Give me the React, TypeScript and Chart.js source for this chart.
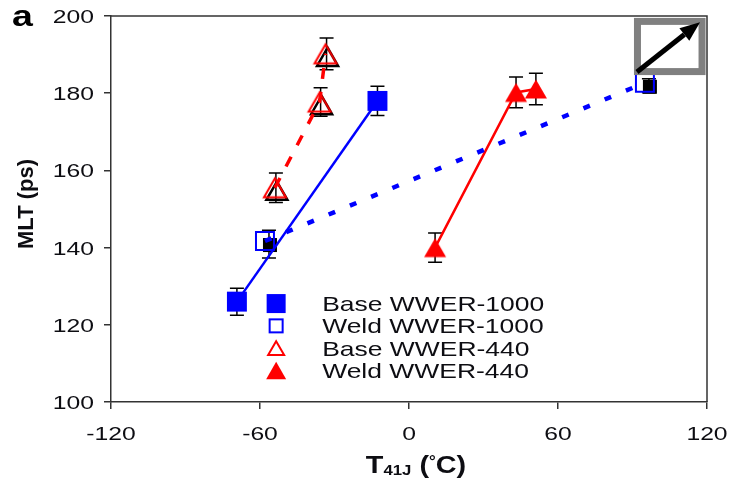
import React, { useEffect, useRef } from 'react';
import { Chart, registerables } from 'chart.js';

Chart.register(...registerables);

// ---------- data ----------
const xTicks = [-120, -60, 0, 60, 120];
const yTicks = [100, 120, 140, 160, 180, 200];
const seriesLabels = ['Base WWER-1000', 'Weld WWER-1000', 'Base WWER-440', 'Weld WWER-440'];

const baseW1000X = [-69.3, -12.7];
const baseW1000Y = [126.0, 178.0];
const baseW1000Err = [3.5, 3.8];

const weldW1000X = [-58.0, 95.0];
const weldW1000Y = [141.7, 182.7];
const weldW1000Err = [3.6, 1.8];

const baseW440X = [-54.0, -36.0, -33.6];
const baseW440Y = [155.5, 177.7, 190.2];
const baseW440Err = [3.8, 3.7, 4.1];

const weldW440X = [10.5, 43.1, 51.1];
const weldW440Y = [140.0, 180.2, 181.1];
const weldW440Err = [3.8, 4.0, 4.1];

const BLUE = '#0000ff';
const RED = '#ff0000';
const INK = '#0d0d12';
const FONT = '"Liberation Sans", Arial, Helvetica, sans-serif';

function toPts(xs: number[], ys: number[]) {
  return xs.map((x, i) => ({ x, y: ys[i] }));
}

function triPath(ctx: CanvasRenderingContext2D, cx: number, cy: number, side: number) {
  const h = (side * Math.sqrt(3)) / 2;
  const top = cy - h / 2;
  ctx.beginPath();
  ctx.moveTo(cx, top);
  ctx.lineTo(cx + side / 2, top + h);
  ctx.lineTo(cx - side / 2, top + h);
  ctx.closePath();
}

function makeTriangle(side: number, fill: string | null, stroke: string | null, lw: number) {
  const h = (side * Math.sqrt(3)) / 2;
  const pad = lw + 1;
  const c = document.createElement('canvas');
  c.width = Math.ceil(side + pad * 2);
  c.height = Math.ceil(h + pad * 2);
  const ctx = c.getContext('2d')!;
  triPath(ctx, c.width / 2, c.height / 2, side);
  if (fill) {
    ctx.fillStyle = fill;
    ctx.fill();
  }
  if (stroke) {
    ctx.strokeStyle = stroke;
    ctx.lineWidth = lw;
    ctx.stroke();
  }
  return c;
}

function sText(
  ctx: CanvasRenderingContext2D,
  text: string,
  x: number,
  y: number,
  font: string,
  sx: number,
  align: 'left' | 'center' | 'right',
  color = INK
) {
  ctx.save();
  ctx.font = font;
  const w = ctx.measureText(text).width * sx;
  let left = x;
  if (align === 'center') left = x - w / 2;
  else if (align === 'right') left = x - w;
  ctx.translate(left, y);
  ctx.scale(sx, 1);
  ctx.textAlign = 'left';
  ctx.textBaseline = 'alphabetic';
  ctx.fillStyle = color;
  ctx.fillText(text, 0, 0);
  ctx.restore();
  return w;
}

function textWidth(ctx: CanvasRenderingContext2D, text: string, font: string, sx: number) {
  ctx.save();
  ctx.font = font;
  const w = ctx.measureText(text).width * sx;
  ctx.restore();
  return w;
}

const decorPlugin = {
  id: 'decor',
  beforeDatasetsDraw(chart: any) {
    const ctx: CanvasRenderingContext2D = chart.ctx;
    const xs = chart.scales.x;
    const ys = chart.scales.y;
    chart.data.datasets.forEach((ds: any) => {
      const errs: number[] = ds.errors || [];
      const edx = ds.errDx || 0;
      const edy = ds.errDy || 0;
      ds.data.forEach((p: any, j: number) => {
        const px = xs.getPixelForValue(p.x);
        const py = ys.getPixelForValue(p.y);
        if (ds.shadow === 'square') {
          const s = 14;
          ctx.fillStyle = '#000';
          ctx.fillRect(px + ds.shDx - s / 2, py + ds.shDy - s / 2, s, s);
        } else if (ds.shadow === 'triangle') {
          ctx.save();
          ctx.strokeStyle = '#000';
          ctx.lineWidth = 2.5;
          triPath(ctx, px + ds.shDx, py + ds.shDy, 21);
          ctx.stroke();
          ctx.restore();
        }
        const e = errs[j];
        if (e == null) return;
        const cx = px + edx;
        const top = ys.getPixelForValue(p.y + e) + edy;
        const bot = ys.getPixelForValue(p.y - e) + edy;
        ctx.save();
        ctx.strokeStyle = '#000';
        ctx.lineWidth = 1.5;
        ctx.beginPath();
        ctx.moveTo(cx, top);
        ctx.lineTo(cx, bot);
        ctx.moveTo(cx - 7, top);
        ctx.lineTo(cx + 7, top);
        ctx.moveTo(cx - 7, bot);
        ctx.lineTo(cx + 7, bot);
        ctx.stroke();
        ctx.restore();
      });
    });
  },
  afterDatasetsDraw(chart: any) {
    const ctx: CanvasRenderingContext2D = chart.ctx;
    const xs = chart.scales.x;
    const ys = chart.scales.y;
    const box = chart.options.plugins.decor.box;
    const arrow = chart.options.plugins.decor.arrow;
    const bx0 = xs.getPixelForValue(box.x0);
    const bx1 = xs.getPixelForValue(box.x1);
    const by0 = ys.getPixelForValue(box.y1);
    const by1 = ys.getPixelForValue(box.y0);
    ctx.save();
    ctx.strokeStyle = '#808080';
    ctx.lineWidth = 7;
    ctx.strokeRect(bx0, by0, bx1 - bx0, by1 - by0);
    const ax0 = xs.getPixelForValue(arrow.x0);
    const ay0 = ys.getPixelForValue(arrow.y0);
    const ax1 = xs.getPixelForValue(arrow.x1);
    const ay1 = ys.getPixelForValue(arrow.y1);
    const ang = Math.atan2(ay1 - ay0, ax1 - ax0);
    const headL = 20;
    const headW = 8;
    const bx = ax1 - headL * Math.cos(ang);
    const byy = ay1 - headL * Math.sin(ang);
    ctx.strokeStyle = '#000';
    ctx.lineWidth = 5;
    ctx.lineCap = 'butt';
    ctx.beginPath();
    ctx.moveTo(ax0, ay0);
    ctx.lineTo(bx, byy);
    ctx.stroke();
    ctx.fillStyle = '#000';
    ctx.beginPath();
    ctx.moveTo(ax1, ay1);
    ctx.lineTo(bx + headW * Math.sin(ang), byy - headW * Math.cos(ang));
    ctx.lineTo(bx - headW * Math.sin(ang), byy + headW * Math.cos(ang));
    ctx.closePath();
    ctx.fill();
    ctx.restore();
  },
  afterDraw(chart: any) {
    const ctx: CanvasRenderingContext2D = chart.ctx;
    const area = chart.chartArea;
    const xs = chart.scales.x;
    const ys = chart.scales.y;
    ctx.save();
    ctx.strokeStyle = '#333';
    ctx.lineWidth = 1.5;
    ctx.beginPath();
    ctx.moveTo(area.left, area.top);
    ctx.lineTo(area.right, area.top);
    ctx.lineTo(area.right, area.bottom);
    ctx.stroke();
    ctx.restore();

    const tickFont = `19px ${FONT}`;
    const tsx = 1.3;
    xTicks.forEach((v) => {
      sText(ctx, String(v), xs.getPixelForValue(v), area.bottom + 38, tickFont, tsx, 'center');
    });
    yTicks.forEach((v) => {
      sText(ctx, String(v), area.left - 17, ys.getPixelForValue(v) + 7, tickFont, tsx, 'right');
    });

    sText(ctx, 'a', 12, 26, `bold 30px ${FONT}`, 1.25, 'left', '#000');

    ctx.save();
    ctx.translate(33, (area.top + area.bottom) / 2 - 5);
    ctx.rotate(-Math.PI / 2);
    ctx.font = `bold 22px ${FONT}`;
    ctx.fillStyle = INK;
    ctx.textAlign = 'center';
    ctx.textBaseline = 'alphabetic';
    ctx.fillText('MLT (ps)', 0, 0);
    ctx.restore();

    const big = `bold 24px ${FONT}`;
    const small = `bold 14px ${FONT}`;
    const sx = 1.2;
    const runs = [
      { t: 'T', f: big, dy: 0 },
      { t: '41J', f: small, dy: 2 },
      { t: ' (', f: big, dy: 0 },
      { t: '°', f: small, dy: -7 },
      { t: 'C)', f: big, dy: 0 },
    ];
    const total = runs.reduce((s, r) => s + textWidth(ctx, r.t, r.f, sx), 0);
    let cx = (area.left + area.right) / 2 + 7 - total / 2;
    const base = area.bottom + 71;
    runs.forEach((r) => {
      cx += sText(ctx, r.t, cx, base + r.dy, r.f, sx, 'left');
    });

    const leg = chart.options.plugins.decor.legend;
    const lx = xs.getPixelForValue(leg.x);
    const ly = ys.getPixelForValue(leg.y);
    const rowH = 22.3;
    const legFont = `21px ${FONT}`;
    seriesLabels.forEach((lab, i) => {
      const cy = ly + i * rowH;
      const mx = lx;
      ctx.save();
      if (i === 0) {
        ctx.fillStyle = BLUE;
        ctx.fillRect(mx - 9.5, cy - 9.5, 19, 19);
      } else if (i === 1) {
        ctx.strokeStyle = BLUE;
        ctx.lineWidth = 2;
        ctx.strokeRect(mx - 6.5, cy - 6.5, 13, 13);
      } else if (i === 2) {
        ctx.strokeStyle = RED;
        ctx.lineWidth = 2;
        triPath(ctx, mx, cy, 16);
        ctx.stroke();
      } else {
        ctx.fillStyle = RED;
        triPath(ctx, mx, cy, 20);
        ctx.fill();
      }
      ctx.restore();
      sText(ctx, lab, mx + 46, cy + 7.5, legFont, 1.26, 'left');
    });
  },
};

export default function App() {
  const ref = useRef<HTMLCanvasElement | null>(null);

  useEffect(() => {
    const canvas = ref.current;
    if (!canvas) return;
    const openTri = makeTriangle(22, null, RED, 2);
    const fillTri = makeTriangle(22, RED, null, 0);

    const chart = new Chart(canvas, {
      type: 'scatter',
      data: {
        datasets: [
          {
            label: seriesLabels[0],
            data: toPts(baseW1000X, baseW1000Y),
            showLine: true,
            borderColor: BLUE,
            borderWidth: 2.5,
            pointStyle: 'rect',
            pointRadius: 14.1,
            pointBackgroundColor: BLUE,
            pointBorderColor: BLUE,
            pointBorderWidth: 0,
            errors: baseW1000Err,
          } as any,
          {
            label: seriesLabels[1],
            data: toPts(weldW1000X, weldW1000Y),
            showLine: true,
            borderColor: BLUE,
            borderWidth: 4.5,
            borderDash: [7, 16],
            pointStyle: 'rect',
            pointRadius: 12.7,
            pointBackgroundColor: 'rgba(0,0,0,0)',
            pointBorderColor: BLUE,
            pointBorderWidth: 2,
            errors: weldW1000Err,
            errDx: 4,
            errDy: 3,
            shadow: 'square',
            shDx: 5,
            shDy: 4,
          } as any,
          {
            label: seriesLabels[2],
            data: toPts(baseW440X, baseW440Y),
            showLine: true,
            borderColor: RED,
            borderWidth: 3.5,
            borderDash: [11, 13],
            pointStyle: openTri,
            pointRadius: 12,
            errors: baseW440Err,
            errDx: 1,
            errDy: 0,
            shadow: 'triangle',
            shDx: 2,
            shDy: 3,
          } as any,
          {
            label: seriesLabels[3],
            data: toPts(weldW440X, weldW440Y),
            showLine: true,
            borderColor: RED,
            borderWidth: 2.5,
            pointStyle: fillTri,
            pointRadius: 12,
            errors: weldW440Err,
          } as any,
        ],
      },
      options: {
        responsive: false,
        animation: false,
        events: [],
        layout: {
          autoPadding: false,
          padding: { left: 104, right: 28, top: 16, bottom: 69 },
        },
        scales: {
          x: {
            type: 'linear',
            min: -120,
            max: 120,
            ticks: { display: false, stepSize: 60 },
            grid: {
              display: true,
              drawOnChartArea: false,
              drawTicks: true,
              tickLength: 7,
              color: '#333',
              lineWidth: 1.5,
            },
            border: { display: true, color: '#333', width: 1.5 },
          },
          y: {
            type: 'linear',
            min: 100,
            max: 200,
            ticks: { display: false, stepSize: 20 },
            grid: {
              display: true,
              drawOnChartArea: false,
              drawTicks: true,
              tickLength: 7,
              color: '#333',
              lineWidth: 1.5,
            },
            border: { display: true, color: '#333', width: 1.5 },
          },
        },
        plugins: {
          legend: { display: false },
          tooltip: { enabled: false },
          decor: {
            box: { x0: 92.0, x1: 118.0, y0: 185.6, y1: 198.6 },
            arrow: { x0: 91.8, y0: 185.5, x1: 117.2, y1: 198.4 },
            legend: { x: -53.5, y: 125.5 },
          },
        } as any,
      },
      plugins: [decorPlugin as any],
    });
    return () => chart.destroy();
  }, []);

  return (
    <div style={{ position: 'absolute', left: 0, top: 0, width: 735, height: 478, background: '#fff' }}>
      <canvas ref={ref} width={735} height={478} style={{ width: 735, height: 478, display: 'block' }} />
    </div>
  );
}
